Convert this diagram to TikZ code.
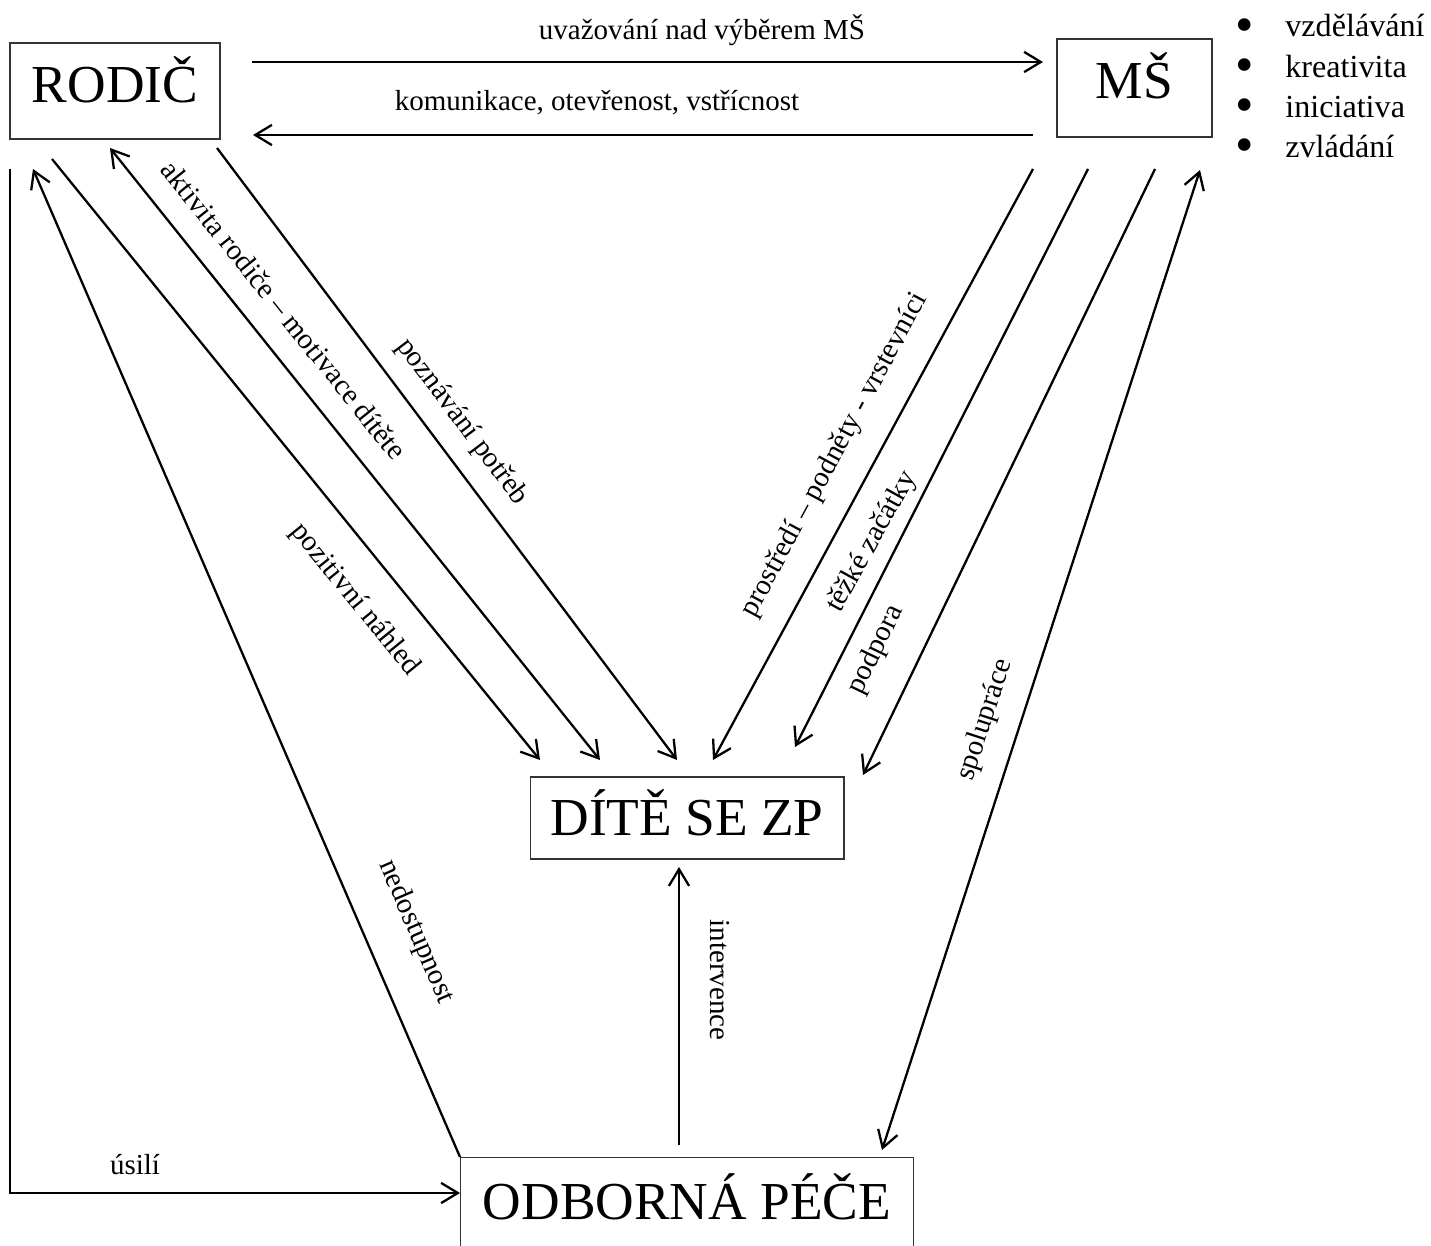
\documentclass[tikz,border=0pt]{standalone}
\usepackage{fontspec}
\setmainfont{Liberation Serif}
\usetikzlibrary{arrows.meta}

\begin{document}
\begin{tikzpicture}[x=0.02cm, y=-0.02cm,
  box/.style={draw=black!80, line width=0.6pt, inner sep=0pt, text height=20pt,
    font=\fontsize{30.4pt}{36pt}\selectfont},
  arr/.style={line width=1.3pt, -{Straight Barb[length=9.5pt,width=11.5pt]}},
  arrs/.style={line width=1.3pt, {Straight Barb[length=9.5pt,width=11.5pt]}-{Straight Barb[length=9.5pt,width=11.5pt]}},
  lbl/.style={inner sep=0pt, font=\fontsize{16.5pt}{20pt}\selectfont},
  item/.style={inner sep=0pt, anchor=base west, font=\fontsize{18.3pt}{22pt}\selectfont},
  dot/.style={inner sep=0pt, font=\fontsize{30pt}{30pt}\selectfont}]

\useasboundingbox (0,0) rectangle (1431,1246);

\node[box, minimum width=4.2cm, minimum height=1.92cm, text depth=7.4pt] (rodic) at (115,91) {RODIČ};
\node[box, minimum width=3.1cm, minimum height=1.96cm, text depth=8pt] (ms) at (1134.5,88) {MŠ};
\node[box, minimum width=6.28cm, minimum height=1.64cm, text depth=0pt] (dite) at (687,818) {DÍTĚ SE ZP};
\node[box, minimum width=9.08cm, minimum height=2cm, text depth=6.8pt, anchor=north] (pece) at (687,1157) {ODBORNÁ PÉČE};

\node[dot] (b1) at (1245,31) {\textbullet};
\node[dot] (b2) at (1245,71) {\textbullet};
\node[dot] (b3) at (1245,111) {\textbullet};
\node[dot] (b4) at (1245,151) {\textbullet};
\node[item] (vzdel) at (1285,37) {vzdělávání};
\node[item] (kreat) at (1285,78) {kreativita};
\node[item] (inic) at (1285,118) {iniciativa};
\node[item] (zvlad) at (1285,158) {zvládání};

\coordinate (uvA) at (252,62);
\coordinate (uvB) at (1043,62);
\coordinate (koA) at (1033,135);
\coordinate (koB) at (253,135);
\coordinate (usA) at (10,169);
\coordinate (usB) at (460,1193);
\coordinate (neA) at (460,1157);
\coordinate (neB) at (33,169);
\coordinate (poA) at (52,159);
\coordinate (poB) at (540,760);
\coordinate (akA) at (110,148);
\coordinate (akB) at (600,760);
\coordinate (pzA) at (217,148);
\coordinate (pzB) at (677,760);
\coordinate (prA) at (1033,169);
\coordinate (prB) at (713,760);
\coordinate (tzA) at (1088,169);
\coordinate (tzB) at (795,747);
\coordinate (pdA) at (1155,169);
\coordinate (pdB) at (863,775);
\coordinate (spA) at (1200,170);
\coordinate (spB) at (882,1150);
\coordinate (inA) at (679,1145);
\coordinate (inB) at (679,867);

\draw[arr] (uvA) -- (uvB);
\draw[arr] (koA) -- (koB);
\draw[arr] (usA) -- (usA |- usB) -- (usB);
\draw[arr] (neA) -- (neB);
\draw[arr] (poA) -- (poB);
\draw[arrs] (akA) -- (akB);
\draw[arr] (pzA) -- (pzB);
\draw[arr] (prA) -- (prB);
\draw[arr] (tzA) -- (tzB);
\draw[arr] (pdA) -- (pdB);
\draw[arrs] (spA) -- (spB);
\draw[arr] (inA) -- (inB);

\node[lbl] (uvlbl) at (702,30) {uvažování nad výběrem MŠ};
\node[lbl] (kolbl) at (597,103) {komunikace, otevřenost, vstřícnost};
\node[lbl] (uslbl) at (135,1165) {úsilí};
\node[lbl, rotate=-66.6] (nelbl) at (416,932) {nedostupnost};
\node[lbl, rotate=-50.9] (polbl) at (355,600) {pozitivní náhled};
\node[lbl, rotate=-51.3] (aklbl) at (284,310) {aktivita rodiče – motivace dítěte};
\node[lbl, rotate=-53.1] (pzlbl) at (462,422) {poznávání potřeb};
\node[lbl, rotate=61.6] (prlbl) at (835,455) {prostředí – podněty - vrstevníci};
\node[lbl, rotate=61] (tzlbl) at (872,542) {těžké začátky};
\node[lbl, rotate=64.3] (pdlbl) at (876,650) {podpora};
\node[lbl, rotate=71.9] (splbl) at (985,720) {spolupráce};
\node[lbl, rotate=-90] (inlbl) at (720,980) {intervence};

\end{tikzpicture}
\end{document}
